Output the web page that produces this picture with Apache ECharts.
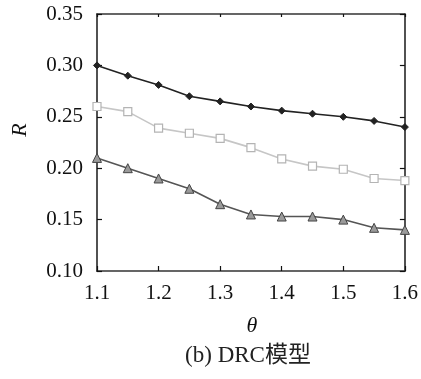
<!DOCTYPE html>
<html>
<head>
<meta charset="utf-8">
<script src="https://cdn.jsdelivr.net/npm/echarts@6/dist/echarts.min.js"></script>
<style>
  html, body { margin: 0; padding: 0; background: #fff; }
  #chart { width: 421px; height: 379px; }
</style>
</head>
<body>
<div id="chart"></div>
<script>
// θ values along the x axis
const thetas = [1.1, 1.15, 1.2, 1.25, 1.3, 1.35, 1.4, 1.45, 1.5, 1.55, 1.6];
// R for each of the three curves
const seriesTop = [0.300, 0.290, 0.281, 0.270, 0.265, 0.260, 0.256, 0.253, 0.250, 0.246, 0.240];
const seriesMid = [0.260, 0.255, 0.239, 0.234, 0.229, 0.220, 0.209, 0.202, 0.199, 0.190, 0.188];
const seriesLow = [0.210, 0.200, 0.190, 0.180, 0.165, 0.155, 0.153, 0.153, 0.150, 0.142, 0.140];
// axis ranges and tick steps
const xMin = 1.1, xMax = 1.6, xStep = 0.1;
const yMin = 0.10, yMax = 0.35, yStep = 0.05;
const xLabel = 'θ', yLabel = 'R', caption = '(b) DRC模型';

const serif = '"Liberation Serif", "Noto Sans CJK SC", serif';
const pairs = vals => thetas.map((t, i) => [t, vals[i]]);

const frame = { show: true, lineStyle: { color: '#333', width: 1.7 } };
const chart = echarts.init(document.getElementById('chart'), null, { renderer: 'canvas' });

chart.setOption({
  animation: false,
  backgroundColor: '#fff',
  grid: { left: 97, right: 15, top: 14, bottom: 108, containLabel: false },
  xAxis: [
    {
      type: 'value', min: xMin, max: xMax, interval: xStep, position: 'bottom',
      axisLine: frame,
      axisTick: { show: true, inside: true, length: 5, lineStyle: { color: '#111', width: 1.2 } },
      axisLabel: { color: '#111', fontFamily: serif, fontSize: 21, margin: 12,
                   formatter: v => v.toFixed(1) },
      splitLine: { show: false }
    },
    {
      type: 'value', min: xMin, max: xMax, interval: xStep, position: 'top',
      axisLine: frame,
      axisTick: { show: true, inside: true, length: 3, lineStyle: { color: '#111', width: 1.2 } },
      axisLabel: { show: false }, splitLine: { show: false }
    }
  ],
  yAxis: [
    {
      type: 'value', min: yMin, max: yMax, interval: yStep, position: 'left',
      axisLine: frame,
      axisTick: { show: true, inside: true, length: 5, lineStyle: { color: '#111', width: 1.2 } },
      axisLabel: { color: '#111', fontFamily: serif, fontSize: 21, margin: 14,
                   formatter: v => v.toFixed(2) },
      splitLine: { show: false }
    },
    {
      type: 'value', min: yMin, max: yMax, interval: yStep, position: 'right',
      axisLine: frame,
      axisTick: { show: true, inside: true, length: 5, lineStyle: { color: '#111', width: 1.2 } },
      axisLabel: { show: false }, splitLine: { show: false }
    }
  ],
  series: [
    {
      type: 'line', data: pairs(seriesTop), symbol: 'diamond', symbolSize: 7,
      lineStyle: { color: '#222', width: 1.6 },
      itemStyle: { color: '#222', borderColor: '#222', borderWidth: 1 }
    },
    {
      type: 'line', data: pairs(seriesMid), symbol: 'rect', symbolSize: 8,
      lineStyle: { color: '#c6c6c6', width: 1.6 },
      itemStyle: { color: '#fff', borderColor: '#b4b4b4', borderWidth: 1.2 }
    },
    {
      type: 'line', data: pairs(seriesLow), symbol: 'triangle', symbolSize: 9,
      lineStyle: { color: '#555', width: 1.6 },
      itemStyle: { color: '#9a9a9a', borderColor: '#444', borderWidth: 1 }
    }
  ],
  graphic: [
    {
      type: 'text', x: 20, y: 130, rotation: Math.PI / 2,
      style: { text: yLabel, font: 'italic 22px ' + serif, fill: '#111',
               align: 'center', verticalAlign: 'middle' }
    },
    {
      type: 'text', x: 252, y: 326,
      style: { text: xLabel, font: 'italic 22px ' + serif, fill: '#111',
               align: 'center', verticalAlign: 'middle' }
    },
    {
      type: 'text', x: 248, y: 356,
      style: { text: caption, font: '23px ' + serif, fill: '#222',
               align: 'center', verticalAlign: 'middle' }
    }
  ]
});
</script>
</body>
</html>
